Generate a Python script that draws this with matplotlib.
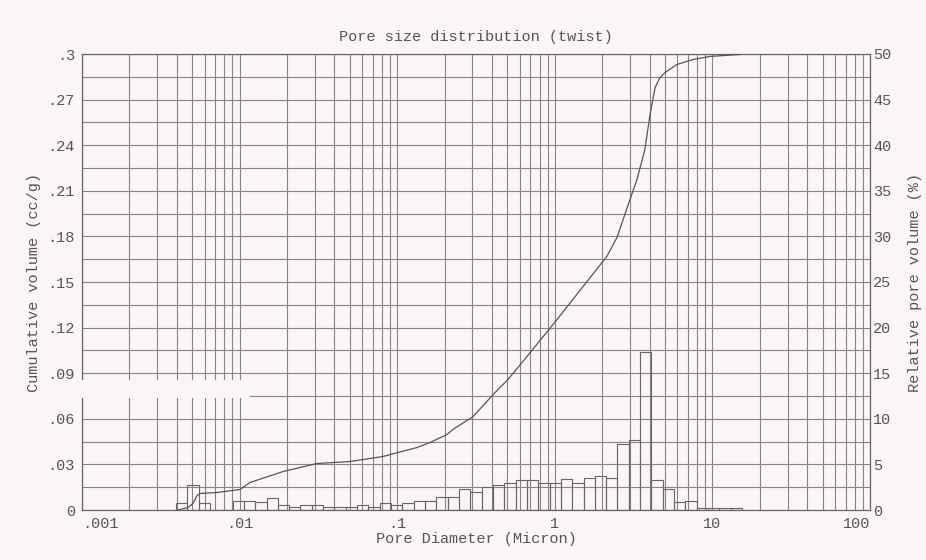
import numpy as np
import matplotlib
matplotlib.use("Agg")
import matplotlib.pyplot as plt
from matplotlib.ticker import FixedLocator, NullFormatter
from matplotlib.patches import Rectangle

plt.rcParams['font.family'] = ['Liberation Mono', 'DejaVu Sans Mono']

# cumulative intrusion curve (pore diameter in micron, volume in cc/g)
cum_diam = [0.00406, 0.00471, 0.00506, 0.00537, 0.00561, 0.00719, 0.01006, 0.01164,
            0.01886, 0.0310, 0.0502, 0.0812, 0.1335, 0.1615, 0.207, 0.226, 0.303,
            0.4176, 0.505, 0.666, 1.033, 1.51, 2.14, 2.48, 3.00, 3.32, 3.73, 4.02,
            4.33, 4.65, 5.0, 5.96, 7.53, 9.66, 14.96]
cum_vol = [0.0, 0.0016, 0.0043, 0.0095, 0.0109, 0.0115, 0.0135, 0.0181,
           0.0253, 0.0306, 0.0319, 0.0352, 0.0411, 0.0444, 0.0497, 0.053, 0.0615,
           0.0773, 0.0859, 0.101, 0.1253, 0.1470, 0.1668, 0.1793, 0.2043, 0.2174, 0.2372, 0.2602,
           0.278, 0.2845, 0.2878, 0.2931, 0.2964, 0.2984, 0.2997]

# relative pore volume per bin (%), bins evenly spaced in log diameter
bin_lo, bin_hi = 0.003947, 15.41
rel_vol = [0.73, 2.7, 0.73, 0.0, 0.0, 0.95, 0.95, 0.88, 1.3, 0.5,
           0.3, 0.5, 0.5, 0.3, 0.3, 0.3, 0.5, 0.3, 0.73, 0.5,
           0.73, 0.95, 0.95, 1.47, 1.47, 2.27, 1.97, 2.57, 2.78, 3.0,
           3.29, 3.29, 3.0, 3.0, 3.44, 3.0, 3.5, 3.73, 3.48, 7.2,
           7.68, 17.3, 3.26, 2.27, 0.84, 0.99, 0.26, 0.26, 0.26, 0.2]

x_ticks = [0.001, 0.01, 0.1, 1, 10, 100]
x_labels = ['.001', '.01', '.1', '1', '10', '100']
left_ticks = [0, 0.03, 0.06, 0.09, 0.12, 0.15, 0.18, 0.21, 0.24, 0.27, 0.3]
left_labels = ['0', '.03', '.06', '.09', '.12', '.15', '.18', '.21', '.24', '.27', '.3']
right_ticks = [0, 5, 10, 15, 20, 25, 30, 35, 40, 45, 50]

bg = '#fbf5f5'
ink = '#555555'
gridc = '#858585'

fig = plt.figure(figsize=(9.26, 5.6), dpi=100, facecolor=bg)
ax = fig.add_axes([82/926, 1 - 510/560, (870 - 82)/926, (510 - 54)/560])
ax.set_facecolor(bg)
ax.set_xscale('log')
ax.set_xlim(1e-3, 1e2)
ax.set_ylim(0, 0.3)

ax.set_xticks(x_ticks)
ax.set_xticklabels(x_labels)
ax.xaxis.set_minor_locator(FixedLocator([m * 10.0**e for e in range(-3, 2) for m in range(2, 10)]))
ax.xaxis.set_minor_formatter(NullFormatter())
ax.set_yticks(left_ticks)
ax.set_yticklabels(left_labels)
ax.yaxis.set_minor_locator(FixedLocator(np.arange(0.015, 0.3, 0.03)))
ax.set_axisbelow(True)
ax.grid(True, which='both', color=gridc, linewidth=0.8)
ax.tick_params(which='both', length=0, colors=ink, labelsize=11, pad=5)
tl = ax.get_xticklabels()
tl[0].set_horizontalalignment('left')
tl[-1].set_horizontalalignment('right')
for s in ax.spines.values():
    s.set_color('#666666')
    s.set_linewidth(0.9)

# scan artifact band on the left
ax.add_patch(Rectangle((-0.003, 0.246), 0.2165, 0.04, transform=ax.transAxes,
                       facecolor=bg, edgecolor='none', zorder=3, clip_on=False))

ax.plot(cum_diam, cum_vol, color='#555555', linewidth=0.9, zorder=4)

ax2 = ax.twinx()
ax2.set_ylim(0, 50)
ax2.set_yticks(right_ticks)
ax2.tick_params(length=0, colors=ink, labelsize=11, pad=2)
ax2.patch.set_visible(False)
for s in ax2.spines.values():
    s.set_visible(False)

edges = np.logspace(np.log10(bin_lo), np.log10(bin_hi), len(rel_vol) + 1)
ax2.bar(edges[:-1], rel_vol, width=np.diff(edges), align='edge', fill=False,
        edgecolor='#666666', linewidth=0.8)

ax.set_title('Pore size distribution (twist)', fontsize=11, color=ink, pad=9)
ax.set_xlabel('Pore Diameter (Micron)', fontsize=11, color=ink, labelpad=1)
ax.set_ylabel('Cumulative volume (cc/g)', fontsize=11, color=ink, labelpad=5)
ax2.set_ylabel('Relative pore volume (%)', fontsize=11, color=ink, labelpad=12)

fig.savefig('out.png', dpi=100, facecolor=bg)
